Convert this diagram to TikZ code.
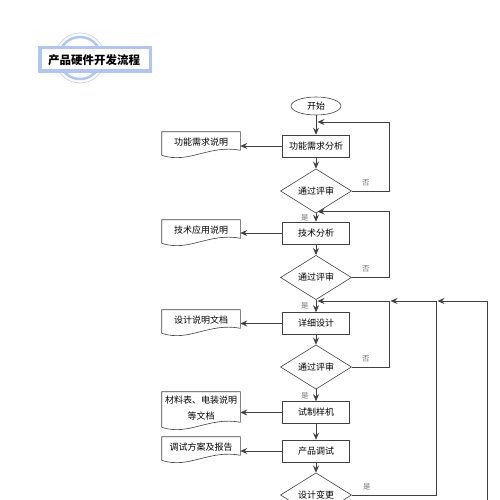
\documentclass[tikz,border=0pt]{standalone}
\usepackage{fontspec}
\setmainfont{Noto Sans CJK SC}
\usepackage{tikz}
\usetikzlibrary{shapes.geometric, arrows.meta, calc}

\definecolor{titleblue}{HTML}{AFC5F5}
\definecolor{strokegray}{HTML}{404040}

% document shape: straight top, wavy bottom
\newcommand{\docoutline}[1]{%
  \draw[strokegray] ($(#1.south west)+(0,3)$) -- (#1.north west) -- (#1.north east) -- ($(#1.south east)+(0,-2)$)
    .. controls ($(#1.south)+(8,-8)$) and ($(#1.south)+(-12,12)$) .. ($(#1.south west)+(0,3)$);}

\begin{document}
\begin{tikzpicture}[x=1pt, y=-1pt, line width=0.6pt, font=\fontsize{9}{11}\selectfont,
    >={Stealth[length=7pt,width=6pt,inset=2.5pt]},
    startnode/.style = {draw=strokegray, ellipse, minimum width=50pt, minimum height=18pt, inner sep=0pt},
    proc/.style = {draw=strokegray, rectangle, minimum width=67pt, minimum height=22pt, inner sep=0pt},
    check/.style = {draw=strokegray, diamond, minimum width=71pt, minimum height=32pt, inner sep=0pt},
    docbox/.style = {rectangle, minimum width=78pt, minimum height=20pt, inner sep=0pt, align=center},
    yesno/.style = {text=black!55, inner sep=1pt, font=\fontsize{7.5}{8}\selectfont},
    link/.style = {->, draw=strokegray}]

    \useasboundingbox (0,0) rectangle (500,500);
    \clip (0,0) rectangle (500,500);

    % title badge
    \draw[titleblue!70, line width=0.8pt] (80,58) circle (25);
    \draw[titleblue, line width=2.5pt] (80,58) circle (21);
    \fill[titleblue] (38,46) rectangle (152,73);
    \fill[white] (41.5,49.5) rectangle (148.5,69.5);
    \node[font=\bfseries\fontsize{11.5}{13}\selectfont] (title) at (94,60) {产品硬件开发流程};

    % main column
    \node[startnode] (start) at (316,106) {开始};
    \node[proc] (req) at (316,146) {功能需求分析};
    \node[check] (rev1) at (316,191) {通过评审};
    \node[proc] (tech) at (316,233) {技术分析};
    \node[check] (rev2) at (316,277.5) {通过评审};
    \node[proc] (detail) at (316,323.5) {详细设计};
    \node[check] (rev3) at (316,367) {通过评审};
    \node[proc] (proto) at (316,412.5) {试制样机};
    \node[proc] (debug) at (316,451) {产品调试};
    \node[check] (change) at (316,495) {设计变更};

    % documents
    \node[docbox] (doc1) at (201,142) {功能需求说明};
    \node[docbox] (doc2) at (201,230) {技术应用说明};
    \node[docbox] (doc3) at (201,320) {设计说明文档};
    \node[docbox, minimum height=32pt, font=\fontsize{9}{16.5}\selectfont] (doc4) at (201,408) {材料表、电装说明\\等文档};
    \node[docbox] (doc5) at (201,447) {调试方案及报告};
    \docoutline{doc1}
    \docoutline{doc2}
    \docoutline{doc3}
    \docoutline{doc4}
    \docoutline{doc5}

    \draw[link] (req.west) -- (req.west -| doc1.east);
    \draw[link] (tech.west) -- (tech.west -| doc2.east);
    \draw[link] (detail.west) -- (detail.west -| doc3.east);
    \draw[link] (proto.west) -- (proto.west -| doc4.east);
    \draw[link] (debug.west) -- (debug.west -| doc5.east);

    % downward flow
    \draw[link] (start) -- (req);
    \draw[link] (req) -- (rev1);
    \draw[link] (rev1) -- node[yesno, left=6pt] {是} (tech);
    \draw[link] (tech) -- (rev2);
    \draw[link] (rev2) -- node[yesno, left=6pt] {是} (detail);
    \draw[link] (detail) -- (rev3);
    \draw[link] (rev3) -- node[yesno, left=6pt] {是} (proto);
    \draw[link] (proto) -- (debug);
    \draw[link] (debug) -- (change);

    % review loops
    \coordinate (in1) at (317.5,122);
    \coordinate (in2) at (317.5,211.5);
    \coordinate (in3) at (317.5,301);
    \coordinate (c3) at (389,301);
    \coordinate (c4) at (436,301);
    \coordinate (c5) at (487,510);
    \draw[link] (rev1.east) -- node[yesno, above=4pt, pos=0.38] {否} ++(37,0) |- (in1);
    \draw[link] (rev2.east) -- node[yesno, above=4pt, pos=0.38] {否} ++(37,0) |- (in2);
    \draw[link] (rev3.east) -- node[yesno, above=4pt, pos=0.38] {否} (rev3.east -| c3) -- (c3) -- (in3);
    \draw[link] (change.east) -- node[yesno, above=4pt, pos=0.18] {是} (change.east -| c4) -- (c4) -- ($(c3)+(1.5,0)$);
    \draw[link] (c5) |- ($(c4)+(1.5,0)$);

\end{tikzpicture}
\end{document}
